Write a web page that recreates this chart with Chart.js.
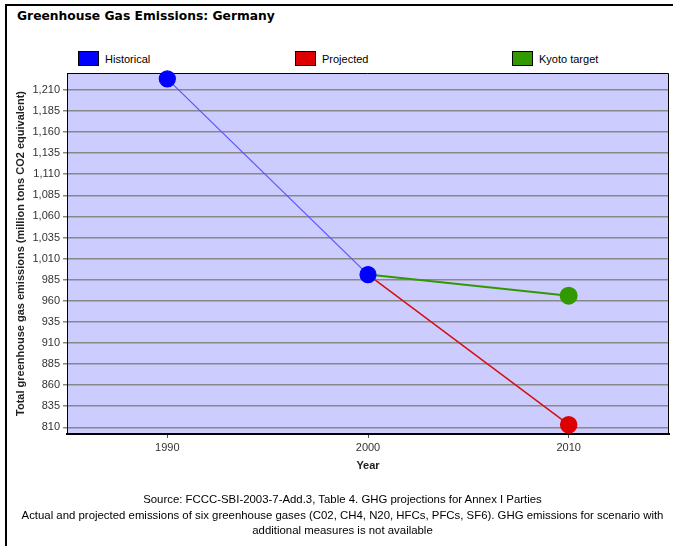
<!DOCTYPE html>
<html>
<head>
<meta charset="utf-8">
<script src="https://cdn.jsdelivr.net/npm/chart.js@4.4.1/dist/chart.umd.min.js"></script>
<style>
    body { margin: 0; background: #fff; width: 673px; height: 546px; overflow: hidden; position: relative; font-family: "Liberation Sans", Arial, sans-serif; }
    #frame { position: absolute; left: 5px; top: 4px; width: 720px; height: 600px; border: 2px solid #000; }
    #title { position: absolute; left: 17px; top: 9px; font: bold 12.3px "DejaVu Sans", Verdana, sans-serif; color: #000; }
    #legend .item { position: absolute; top: 51px; height: 16px; font-size: 11px; color: #000; }
    #legend .box { position: absolute; left: 0; top: 0; width: 19px; height: 13px; border: 1px solid #000; }
    #legend .lbl { position: absolute; left: 27px; top: 2px; white-space: nowrap; }
    #footer { position: absolute; left: 0; top: 492px; width: 685px; text-align: center; font-size: 11.4px; line-height: 15.5px; color: #000; }
    #chart { position: absolute; left: 0; top: 0; }
</style>
</head>
<body>
<div id="frame"></div>
<div id="title">Greenhouse Gas Emissions: Germany</div>
<div id="legend"></div>
<canvas id="chart" width="673" height="546"></canvas>
<div id="footer">Source: FCCC-SBI-2003-7-Add.3, Table 4. GHG projections for Annex I Parties<br>Actual and projected emissions of six greenhouse gases (C02, CH4, N20, HFCs, PFCs, SF6). GHG emissions for scenario with<br>additional measures is not available</div>
<script>
// datos
const seriesNames = ['Historical', 'Projected', 'Kyoto target'];
const historicalYears = [1990, 2000];
const historicalValues = [1223, 991];
const projectedYears = [2000, 2010];
const projectedValues = [991, 813];
const kyotoYears = [2000, 2010];
const kyotoValues = [991, 966];
const xTicks = [1990, 2000, 2010];
const yTicks = [810, 835, 860, 885, 910, 935, 960, 985, 1010, 1035, 1060, 1085, 1110, 1135, 1160, 1185, 1210];

const pointColors = ['#0000ff', '#dd0000', '#339900'];
const lineColors = ['#5555ff', '#d41111', '#339900'];

function toPoints(xs, ys) {
    return xs.map((x, i) => ({ x: x, y: ys[i] }));
}

// leyenda en HTML, separada igual que en la imagen
const legend = document.getElementById('legend');
seriesNames.forEach((name, i) => {
    const item = document.createElement('div');
    item.className = 'item';
    item.style.left = (78 + i * 217) + 'px';
    item.innerHTML = `<div class="box" style="background:${pointColors[i]}"></div><div class="lbl">${name}</div>`;
    legend.appendChild(item);
});

// fondo y borde del area del grafico
const plotBg = {
    id: 'plotBg',
    beforeDraw(chart) {
        const { ctx, chartArea: a } = chart;
        ctx.save();
        ctx.fillStyle = '#ccccff';
        ctx.fillRect(a.left, a.top, a.right - a.left, a.bottom - a.top);
        ctx.restore();
    },
    beforeDatasetsDraw(chart) {
        const { ctx, chartArea: a } = chart;
        ctx.save();
        ctx.strokeStyle = '#000';
        ctx.lineWidth = 1;
        ctx.beginPath();
        ctx.moveTo(a.left, a.top + 0.5);
        ctx.lineTo(a.right - 0.5, a.top + 0.5);
        ctx.lineTo(a.right - 0.5, a.bottom);
        ctx.stroke();
        ctx.restore();
    }
};

const datasets = [
    { label: seriesNames[0], data: toPoints(historicalYears, historicalValues) },
    { label: seriesNames[1], data: toPoints(projectedYears, projectedValues) },
    { label: seriesNames[2], data: toPoints(kyotoYears, kyotoValues) }
].map((d, i) => Object.assign(d, {
    borderColor: lineColors[i],
    backgroundColor: pointColors[i],
    pointBackgroundColor: pointColors[i],
    pointBorderColor: pointColors[i],
    borderWidth: [1.2, 1.5, 2][i],
    pointRadius: i === 0 ? 8 : ctx => (ctx.dataIndex === 0 ? 0 : 8),
    pointHoverRadius: 8,
    tension: 0,
    clip: false
}));

const tickFont = { family: '"Liberation Sans", Arial, sans-serif', size: 11 };
const titleFont = { family: '"Liberation Sans", Arial, sans-serif', size: 11, weight: 'bold' };

new Chart(document.getElementById('chart'), {
    type: 'line',
    data: { datasets: datasets },
    options: {
        responsive: false,
        animation: false,
        layout: { autoPadding: false, padding: { left: 0, top: 73, right: 4, bottom: 71 } },
        plugins: {
            legend: { display: false },
            tooltip: { enabled: false }
        },
        scales: {
            x: {
                type: 'linear',
                min: 1985,
                max: 2015,
                afterBuildTicks: scale => { scale.ticks = xTicks.map(v => ({ value: v })); },
                afterFit: scale => { scale.height = 41; scale.paddingLeft = 0; scale.paddingRight = 0; },
                ticks: { color: '#333', font: tickFont, padding: 3, maxRotation: 0, callback: v => String(v) },
                grid: { drawOnChartArea: false, drawTicks: true, tickLength: 4, tickColor: '#555' },
                border: { color: '#000', width: 2 },
                title: { display: true, text: 'Year', color: '#222', font: titleFont, padding: { top: 0, bottom: 2 } }
            },
            y: {
                type: 'linear',
                min: 802,
                max: 1230,
                afterBuildTicks: scale => { scale.ticks = yTicks.map(v => ({ value: v })); },
                afterFit: scale => { scale.width = 67; scale.paddingTop = 0; scale.paddingBottom = 0; },
                ticks: { color: '#333', font: tickFont, padding: 3, callback: v => v.toLocaleString('en-US') },
                grid: { color: '#888', lineWidth: 1.5, drawTicks: true, tickLength: 4, tickColor: '#888' },
                border: { color: '#000', width: 1 },
                title: { display: true, text: 'Total greenhouse gas emissions (million tons CO2 equivalent)', color: '#222', font: titleFont, padding: { top: 14, bottom: 0 } }
            }
        }
    },
    plugins: [plotBg]
});
</script>
</body>
</html>
